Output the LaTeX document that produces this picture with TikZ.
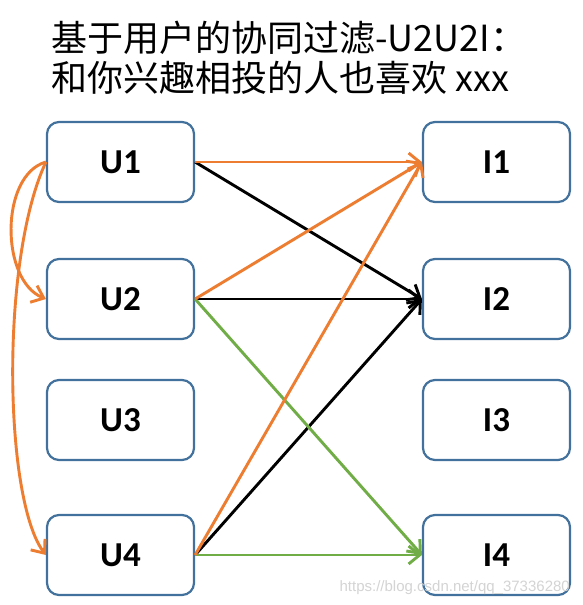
\documentclass[tikz,border=0pt]{standalone}
\usepackage{fontspec}
\newfontfamily\cjk{Noto Sans CJK SC}
\newfontfamily\carlito{Carlito}
\newfontfamily\libsans{Liberation Sans}
\usetikzlibrary{arrows.meta}
\definecolor{boxblue}{HTML}{41719C}
\definecolor{arrorange}{HTML}{ED7D31}
\definecolor{arrgreen}{HTML}{70AD47}
\tikzset{
  itembox/.style={draw=boxblue, line width=2.2pt, rounded corners=12pt, fill=white,
    minimum width=147pt, minimum height=80pt, inner sep=0pt,
    font=\carlito\bfseries\fontsize{35}{40}\selectfont},
  conn/.style={line width=2.9pt, -{Straight Barb[length=11pt,width=18pt,line width=2.9pt]}},
  orangeconn/.style={conn, draw=arrorange},
  blackconn/.style={conn, draw=black},
  greenconn/.style={conn, draw=arrgreen},
  titletext/.style={anchor=base west, inner sep=0pt, font=\cjk\fontsize{36}{40}\selectfont},
}
\begin{document}
\begin{tikzpicture}[x=1pt,y=-1pt]
\useasboundingbox (0,0) rectangle (582,605);
\fill[white] (0,0) rectangle (582,605);

\node[titletext] (t1) at (51,51) {基于用户的协同过滤-U2U2I：};
\node[titletext] (t2) at (51,91) {和你兴趣相投的人也喜欢 xxx};

\node[itembox] (U1) at (120.5,162) {U1};
\node[itembox] (U2) at (120.5,299) {U2};
\node[itembox] (U3) at (120.5,420) {U3};
\node[itembox] (U4) at (120.5,555) {U4};
\node[itembox] (I1) at (496.5,162) {I1};
\node[itembox] (I2) at (496.5,299) {I2};
\node[itembox] (I3) at (496.5,420) {I3};
\node[itembox] (I4) at (496.5,555) {I4};

% user-user similarity curves
\draw[orangeconn] (U1.west) .. controls (0,175) and (0,280) .. (U2.west);
\draw[orangeconn] (U1.west) .. controls (0,260) and (4,500) .. (U4.west);

% recommendations
\draw[blackconn] (U1.east) -- (I2.west);
\draw[blackconn] (U2.east) -- (I2.west);
\draw[blackconn] (U4.east) -- (I2.west);
\draw[greenconn] (U2.east) -- (I4.west);
\draw[greenconn] (U4.east) -- (I4.west);
\draw[orangeconn] (U1.east) -- (I1.west);
\draw[orangeconn] (U2.east) -- (I1.west);
\draw[orangeconn] (U4.east) -- (I1.west);

\node[anchor=base east, inner sep=0pt, text=black!17, font=\libsans\fontsize{15}{18}\selectfont]
  (wm) at (570,591) {https://blog.csdn.net/qq\_37336280};
\end{tikzpicture}
\end{document}
